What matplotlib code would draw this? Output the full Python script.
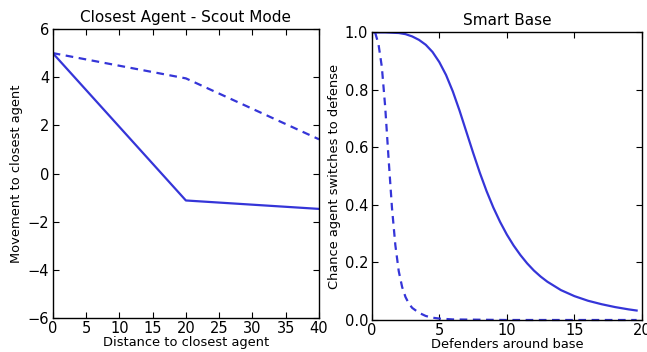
import matplotlib
matplotlib.use("Agg")
import matplotlib.pyplot as plt

# Closest Agent - Scout Mode
scout_x = [0, 20, 40]
scout_solid = [5.0, -1.12, -1.47]
scout_dashed = [5.0, 3.95, 1.42]

# Smart Base
base_solid_x = [0, 1, 2, 2.5, 3, 3.5, 4, 4.5, 5, 5.5, 6, 6.5, 7, 7.5, 8, 8.5,
                9, 9.5, 10, 10.5, 11, 11.5, 12, 12.5, 13, 14, 15, 16, 17, 18,
                19, 19.6]
base_solid_y = [1.0, 1.0, 0.998, 0.994, 0.986, 0.974, 0.957, 0.932, 0.897,
                0.852, 0.795, 0.728, 0.655, 0.582, 0.512, 0.448, 0.391, 0.341,
                0.297, 0.259, 0.226, 0.197, 0.172, 0.151, 0.133, 0.104, 0.083,
                0.067, 0.055, 0.045, 0.037, 0.033]
base_dashed_x = [0.25, 0.5, 0.75, 1.0, 1.25, 1.5, 1.75, 2.0, 2.25, 2.5, 2.75,
                 3.0, 3.5, 4.0, 4.5, 5, 6, 8, 10, 12, 14, 16, 18, 19.6]
base_dashed_y = [1.0, 0.96, 0.88, 0.74, 0.56, 0.39, 0.26, 0.17, 0.115, 0.08,
                 0.057, 0.042, 0.025, 0.014, 0.008, 0.005, 0.002, 0.001, 0, 0,
                 0, 0, 0, 0]

line_color = "#3535d8"
dash = (0, (5.5, 4))

plt.rcParams["font.family"] = "DejaVu Sans"
plt.rcParams["font.size"] = 9.4
plt.rcParams["lines.scale_dashes"] = False

fig = plt.figure(figsize=(6.47, 3.52), dpi=100)
ax1 = fig.add_axes([0.0815, 0.0966, 0.4116, 0.821])
ax2 = fig.add_axes([0.5745, 0.0909, 0.4178, 0.817])

ax1.plot(scout_x, scout_solid, color=line_color, lw=1.6)
ax1.plot(scout_x, scout_dashed, color=line_color, lw=1.6, linestyle=dash)
ax1.set_xlim(0, 40)
ax1.set_ylim(-6, 6)
ax1.set_xticks(range(0, 41, 5))
ax1.set_yticks(range(-6, 7, 2))
ax1.set_title("Closest Agent - Scout Mode", fontsize=11, pad=5)
ax1.set_xlabel("Distance to closest agent", labelpad=0)
ax1.set_ylabel("Movement to closest agent", labelpad=3)

ax2.plot(base_solid_x, base_solid_y, color=line_color, lw=1.6)
ax2.plot(base_dashed_x, base_dashed_y, color=line_color, lw=1.6, linestyle=dash,
         clip_on=False)
ax2.set_xlim(0, 20)
ax2.set_ylim(0, 1)
ax2.set_xticks(range(0, 21, 5))
ax2.set_yticks([0.0, 0.2, 0.4, 0.6, 0.8, 1.0])
ax2.set_yticklabels(["0.0", "0.2", "0.4", "0.6", "0.8", "1.0"])
ax2.set_title("Smart Base", fontsize=11, pad=5)
ax2.set_xlabel("Defenders around base", labelpad=0)
ax2.set_ylabel("Chance agent switches to defense", labelpad=3)

for ax in (ax1, ax2):
    ax.tick_params(direction="in", top=True, right=True, length=4, width=0.8,
                   labelsize=10.5, pad=2.5)
    for s in ax.spines.values():
        s.set_linewidth(1.0)

fig.savefig("out.png", dpi=100)
